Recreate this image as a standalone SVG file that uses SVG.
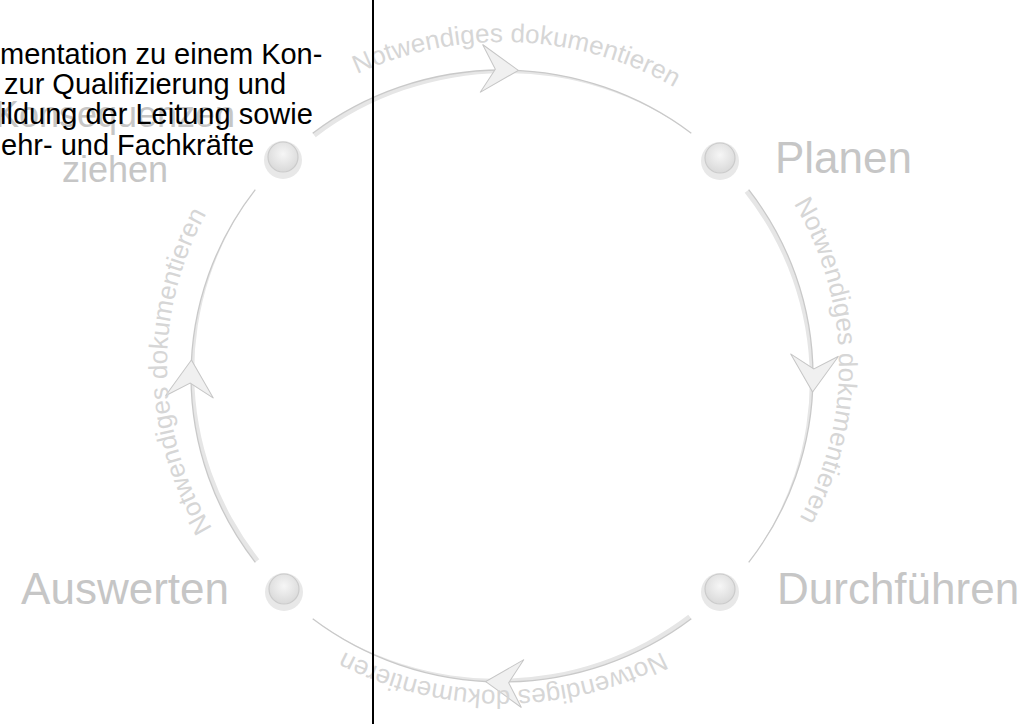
<svg xmlns="http://www.w3.org/2000/svg" width="1025" height="724" viewBox="0 0 1025 724">
<style>
.band{fill:#e6e6e6;stroke:none}
.line{fill:none;stroke:#c9c9c9;stroke-width:1.3}
.arrow{fill:#f0f0f0;stroke:#c6c6c6;stroke-width:1;stroke-linejoin:miter}
.ring{fill:#e8e8e8}
.ball{fill:url(#ballGrad);stroke:#cbcbcb;stroke-width:1.2}
.lbl{font-family:"Liberation Sans",Arial,sans-serif;font-size:44px;fill:#c6c6c6}
.lbl2{font-family:"Liberation Sans",Arial,sans-serif;font-size:36px;fill:#c6c6c6}
.curve{font-family:"Liberation Sans",Arial,sans-serif;font-size:26px;fill:#d6d6d6}
.body{font-family:"Liberation Sans",Arial,sans-serif;font-size:29px;fill:#000}
</style>
<defs>
<radialGradient id="ballGrad" cx="50%" cy="40%" r="60%">
<stop offset="0" stop-color="#f6f6f6"/>
<stop offset="1" stop-color="#d9d9d9"/>
</radialGradient>
<polygon id="arrowHead" points="0,0 -37,-24 -23,0 -37,24"/>
<path id="tp-top" d="M276,127.1 A336,324 0 0 1 750.7,147.1"/>
<path id="tp-right" d="M736.4,132.9 A336,324 0 0 1 744.7,591.1"/>
<path id="tp-bottom" d="M740.6,595.1 A336,324 0 0 1 265.4,595.1"/>
<path id="tp-left" d="M269.6,599.1 A336,324 0 0 1 261.3,140.9"/>
</defs>
<rect width="1025" height="724" fill="#fff"/>
<g id="connectors">
<path class="band" d="M312.7,133.2 A311,306 0 0 1 691.3,133.2 A311,306 0 0 0 315.7,137.2 Z"/>
<path class="band" d="M748.7,189.7 A311,306 0 0 1 748.7,562.3 A311,306 0 0 0 744.7,192.7 Z"/>
<path class="band" d="M691.3,618.8 A311,306 0 0 1 312.7,618.8 A311,306 0 0 0 688.3,614.8 Z"/>
<path class="band" d="M255.3,562.3 A311,306 0 0 1 255.3,189.7 A311,306 0 0 0 259.3,559.3 Z"/>
<path class="line" d="M312.7,133.2 A311,306 0 0 1 691.3,133.2"/>
<path class="line" d="M748.7,189.7 A311,306 0 0 1 748.7,562.3"/>
<path class="line" d="M691.3,618.8 A311,306 0 0 1 312.7,618.8"/>
<path class="line" d="M255.3,562.3 A311,306 0 0 1 255.3,189.7"/>
<use href="#arrowHead" class="arrow" transform="translate(518.3,70.4) rotate(3)"/>
<use href="#arrowHead" class="arrow" transform="translate(812.6,392) rotate(93)"/>
<use href="#arrowHead" class="arrow" transform="translate(485.7,681.6) rotate(183)"/>
<use href="#arrowHead" class="arrow" transform="translate(191.4,360) rotate(273)"/>
<text class="curve"><textPath href="#tp-top" startOffset="50%" text-anchor="middle">Notwendiges dokumentieren</textPath></text>
<text class="curve"><textPath href="#tp-right" startOffset="50%" text-anchor="middle">Notwendiges dokumentieren</textPath></text>
<text class="curve"><textPath href="#tp-bottom" startOffset="50%" text-anchor="middle">Notwendiges dokumentieren</textPath></text>
<text class="curve"><textPath href="#tp-left" startOffset="50%" text-anchor="middle">Notwendiges dokumentieren</textPath></text>
</g>
<g id="node-planen">
<circle class="ring" cx="720" cy="161" r="19"/>
<circle class="ball" cx="720" cy="158" r="15"/>
<text class="lbl" x="775" y="173">Planen</text>
</g>
<g id="node-durchfuehren">
<circle class="ring" cx="720" cy="592" r="19"/>
<circle class="ball" cx="720" cy="589" r="15"/>
<text class="lbl" x="777" y="604">Durchführen</text>
</g>
<g id="node-auswerten">
<circle class="ring" cx="284" cy="592" r="19"/>
<circle class="ball" cx="284" cy="589" r="15"/>
<text class="lbl" x="229" y="604" text-anchor="end">Auswerten</text>
</g>
<g id="node-konsequenzen">
<circle class="ring" cx="283" cy="160" r="19"/>
<circle class="ball" cx="283" cy="157" r="15"/>
<text class="lbl2" text-anchor="middle"><tspan x="115" y="127">Konsequenzen</tspan><tspan x="115" y="182">ziehen</tspan></text>
</g>
<g id="note">
<text class="body">
<tspan x="0" y="64">mentation zu einem Kon-</tspan>
<tspan x="4" y="94">zur Qualifizierung und</tspan>
<tspan x="0" y="124">ildung der Leitung sowie</tspan>
<tspan x="1" y="155">ehr- und Fachkräfte</tspan>
</text>
</g>
<line id="divider" x1="373" y1="0" x2="373" y2="724" stroke="#000" stroke-width="2"/>
</svg>
